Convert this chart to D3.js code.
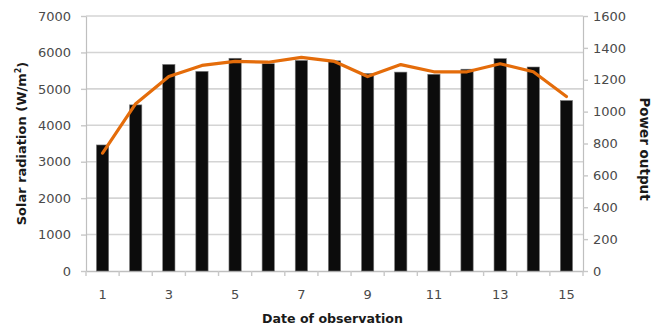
<!DOCTYPE html>
<html>
<head>
<meta charset="utf-8">
<script src="https://cdn.jsdelivr.net/npm/d3@7"></script>
<style>
  html, body { margin: 0; padding: 0; background: #fff; }
  svg { display: block; }
  text { font-family: "DejaVu Sans", sans-serif; }
</style>
</head>
<body>
<svg id="chart" width="652" height="325"></svg>
<script>
// Daily observations: solar radiation (bars, left axis) and power output (line, right axis)
const dates = [1, 2, 3, 4, 5, 6, 7, 8, 9, 10, 11, 12, 13, 14, 15];
const radiation = [3460, 4560, 5670, 5480, 5840, 5690, 5780, 5770, 5420, 5460, 5400, 5540, 5830, 5600, 4680];
const power = [740, 1050, 1220, 1290, 1315, 1310, 1340, 1315, 1220, 1295, 1250, 1250, 1300, 1250, 1095];
const radiationTicks = [0, 1000, 2000, 3000, 4000, 5000, 6000, 7000];
const powerTicks = [0, 200, 400, 600, 800, 1000, 1200, 1400, 1600];
const dateLabels = [1, 3, 5, 7, 9, 11, 13, 15];

const svg = d3.select("#chart");
const margin = { left: 86, right: 69, top: 16, bottom: 54 };
const W = 652, H = 325;
const x0 = margin.left, x1 = W - margin.right;
const y0 = H - margin.bottom, y1 = margin.top;

const x = d3.scaleBand().domain(dates).range([x0, x1]).paddingInner(0.63).paddingOuter(0.315);
const yL = d3.scaleLinear().domain([0, 7000]).range([y0, y1]);
const yR = d3.scaleLinear().domain([0, 1600]).range([y0, y1]);
const plain = d3.format("d");

// horizontal gridlines from the left axis
svg.append("g")
  .selectAll("line")
  .data(radiationTicks.slice(1))
  .join("line")
  .attr("x1", x0).attr("x2", x1)
  .attr("y1", d => yL(d)).attr("y2", d => yL(d))
  .attr("stroke", "#d4d4d4").attr("stroke-width", 1.6);

// left axis
const leftAxis = svg.append("g")
  .attr("transform", `translate(${x0},0)`)
  .call(d3.axisLeft(yL).tickValues(radiationTicks).tickFormat(plain)
    .tickSize(5).tickPadding(10).tickSizeOuter(0));
leftAxis.select(".domain").attr("stroke", "#bfbfbf").attr("stroke-width", 1.2);
leftAxis.selectAll(".tick line").attr("stroke", "#c8c8c8").attr("stroke-width", 1.4);
leftAxis.selectAll(".tick text").attr("fill", "#4a4a4a").attr("font-size", 13)
  .attr("font-family", "DejaVu Sans, sans-serif");

// right axis
const rightAxis = svg.append("g")
  .attr("transform", `translate(${x1},0)`)
  .call(d3.axisRight(yR).tickValues(powerTicks).tickFormat(plain)
    .tickSize(5).tickPadding(5).tickSizeOuter(0));
rightAxis.select(".domain").attr("stroke", "#bfbfbf").attr("stroke-width", 1.2);
rightAxis.selectAll(".tick line").attr("stroke", "#c8c8c8").attr("stroke-width", 1.4);
rightAxis.selectAll(".tick text").attr("fill", "#4a4a4a").attr("font-size", 13)
  .attr("font-family", "DejaVu Sans, sans-serif");

// bottom axis: labels on odd dates, tick marks between categories
const bottomAxis = svg.append("g")
  .attr("transform", `translate(0,${y0})`)
  .call(d3.axisBottom(x).tickValues(dateLabels).tickSize(0).tickPadding(19).tickSizeOuter(0));
bottomAxis.select(".domain").attr("stroke", "#bfbfbf").attr("stroke-width", 1.4);
bottomAxis.selectAll(".tick text").attr("fill", "#4a4a4a").attr("font-size", 13)
  .attr("font-family", "DejaVu Sans, sans-serif");

const boundaries = dates.map(d => x(d) + x.bandwidth() / 2 - x.step() / 2).concat([x1]);
svg.append("g")
  .selectAll("line")
  .data(boundaries)
  .join("line")
  .attr("x1", d => d).attr("x2", d => d)
  .attr("y1", y0).attr("y2", y0 + 5)
  .attr("stroke", "#c8c8c8").attr("stroke-width", 1.4);

// bars
svg.append("g")
  .selectAll("rect")
  .data(dates)
  .join("rect")
  .attr("x", d => x(d))
  .attr("width", x.bandwidth())
  .attr("y", (d, i) => yL(radiation[i]))
  .attr("height", (d, i) => y0 - yL(radiation[i]))
  .attr("fill", "#0c0c0c")
  .attr("stroke", "#7a7a7a")
  .attr("stroke-width", 0.6);

// power output line
const line = d3.line()
  .x((d, i) => x(dates[i]) + x.bandwidth() / 2)
  .y(d => yR(d));
svg.append("path")
  .datum(power)
  .attr("d", line)
  .attr("fill", "none")
  .attr("stroke", "#e46c0a")
  .attr("stroke-width", 3.2)
  .attr("stroke-linejoin", "round")
  .attr("stroke-linecap", "round");

// axis titles
const leftTitle = svg.append("text")
  .attr("transform", `translate(21,${(y0 + y1) / 2}) rotate(-90)`)
  .attr("text-anchor", "middle")
  .attr("dy", "0.35em")
  .attr("font-size", 13)
  .attr("font-weight", "bold")
  .attr("fill", "#1a1a1a");
leftTitle.append("tspan").text("Solar radiation (W/m");
leftTitle.append("tspan").text("2").attr("font-size", 8).attr("dy", "-0.6em");
leftTitle.append("tspan").text(")").attr("dy", "0.45em");

svg.append("text")
  .attr("transform", `translate(645,149) rotate(90)`)
  .attr("text-anchor", "middle")
  .attr("dy", "0.35em")
  .attr("font-size", 13.5)
  .attr("font-weight", "bold")
  .attr("fill", "#1a1a1a")
  .text("Power output");

svg.append("text")
  .attr("x", (x0 + x1) / 2 - 2)
  .attr("y", 323)
  .attr("text-anchor", "middle")
  .attr("font-size", 12.6)
  .attr("font-weight", "bold")
  .attr("fill", "#1a1a1a")
  .text("Date of observation");
</script>
</body>
</html>
